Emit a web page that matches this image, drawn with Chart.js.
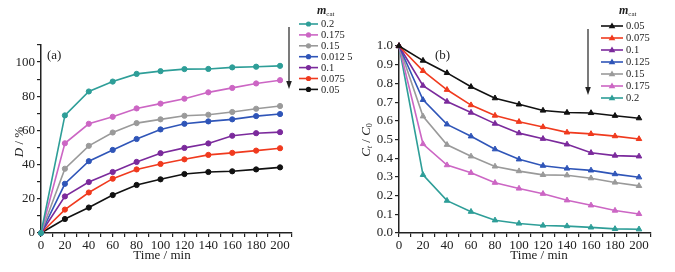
<!DOCTYPE html>
<html lang="en">
<head>
<meta charset="UTF-8" />
<title>Degradation vs catalyst mass</title>
<style>
  body { margin: 0; background: #fff; }
  #wrap { position: relative; width: 675px; height: 272px; }
  canvas { position: absolute; top: 0; }
</style>
</head>
<body>
<div id="wrap">
  <canvas id="chartA" width="370" height="272" style="left:0"></canvas>
  <canvas id="chartB" width="335" height="272" style="left:340px"></canvas>
</div>

<script src="https://cdn.jsdelivr.net/npm/chart.js"></script>
<script>
  // sampling times (min)
  const times = [0, 20, 40, 60, 80, 100, 120, 140, 160, 180, 200];

  // (a) degradation D / %  -- legend order, top to bottom
  const labelsA = ["0.2", "0.175", "0.15", "0.012 5", "0.1", "0.075", "0.05"];
  const dA_02   = [0, 68.8, 82.8, 88.6, 93.1, 94.7, 95.9, 96.0, 96.9, 97.3, 97.8];
  const dA_0175 = [0, 52.5, 63.9, 68.0, 72.9, 75.7, 78.6, 82.3, 84.9, 87.5, 89.4];
  const dA_015  = [0, 37.6, 51.0, 58.8, 64.3, 66.5, 68.6, 69.2, 70.8, 72.7, 74.3];
  const dA_0125 = [0, 28.8, 42.0, 48.6, 55.0, 60.6, 63.9, 65.3, 66.5, 68.4, 69.6];
  const dA_01   = [0, 21.4, 29.8, 35.7, 41.6, 46.7, 49.8, 52.4, 56.9, 58.4, 59.0];
  const dA_0075 = [0, 13.7, 23.7, 31.8, 37.2, 40.4, 43.1, 45.7, 46.9, 48.2, 49.6];
  const dA_005  = [0, 8.2, 14.9, 22.2, 28.1, 31.4, 34.5, 35.7, 36.1, 37.2, 38.4];

  // (b) Ct / C0 -- legend order, top to bottom
  const labelsB = ["0.05", "0.075", "0.1", "0.125", "0.15", "0.175", "0.2"];
  const cB_005  = [1, 0.922, 0.856, 0.782, 0.721, 0.688, 0.655, 0.644, 0.642, 0.627, 0.614];
  const cB_0075 = [1, 0.867, 0.766, 0.684, 0.628, 0.595, 0.567, 0.538, 0.530, 0.518, 0.503];
  const cB_01   = [1, 0.788, 0.703, 0.644, 0.585, 0.534, 0.504, 0.474, 0.429, 0.414, 0.410];
  const cB_0125 = [1, 0.712, 0.581, 0.517, 0.448, 0.394, 0.360, 0.345, 0.335, 0.315, 0.298];
  const cB_015  = [1, 0.624, 0.472, 0.410, 0.356, 0.331, 0.311, 0.309, 0.293, 0.270, 0.252];
  const cB_0175 = [1, 0.476, 0.363, 0.322, 0.269, 0.238, 0.210, 0.175, 0.148, 0.120, 0.102];
  const cB_02   = [1, 0.311, 0.173, 0.114, 0.068, 0.051, 0.040, 0.037, 0.030, 0.022, 0.020];

  const TEAL = '#2e9e98', PINK = '#cc66c4', GRAY = '#9a9a9a', BLUE = '#2f55b8',
        PURPLE = '#7b2a9c', RED = '#f03a1e', BLACK = '#111111';
  const FONT = '"Liberation Serif", "Times New Roman", serif';
  const INK = '#222';

  function series(values) {
    return values.map((v, i) => ({ x: times[i], y: v }));
  }

  function makeSets(labels, arrays, colors, style) {
    return labels.map((lb, i) => ({
      label: lb,
      data: series(arrays[i]),
      borderColor: colors[i],
      backgroundColor: colors[i],
      borderWidth: 1.6,
      pointStyle: style,
      pointRadius: style === 'triangle' ? 3.2 : 2.6,
      pointBorderWidth: 1,
      tension: 0,
      clip: false
    }));
  }

  // draws the legend, arrow, panel label and axis titles
  const decor = {
    id: 'decor',
    afterDraw(chart, args, o) {
      const ctx = chart.ctx;
      ctx.save();
      ctx.fillStyle = INK;
      ctx.textBaseline = 'middle';

      ctx.font = '13px ' + FONT;
      ctx.fillText(o.panel, o.panelX, o.panelY);

      // legend title m_cat
      ctx.font = 'italic bold 12px ' + FONT;
      ctx.fillText('m', o.titleX, o.titleY);
      const mw = ctx.measureText('m').width;
      ctx.font = '7px ' + FONT;
      ctx.fillText('cat', o.titleX + mw, o.titleY + 3);

      // legend entries
      chart.data.datasets.forEach((ds, i) => {
        const y = o.legY + i * o.legStep;
        ctx.strokeStyle = ds.borderColor;
        ctx.lineWidth = 1.6;
        ctx.beginPath();
        ctx.moveTo(o.legX, y);
        ctx.lineTo(o.legX + o.legLen, y);
        ctx.stroke();
        ctx.fillStyle = ds.borderColor;
        const cx = o.legX + o.legLen / 2;
        ctx.beginPath();
        if (ds.pointStyle === 'triangle') {
          ctx.moveTo(cx, y - 3.5);
          ctx.lineTo(cx + 3.3, y + 2.3);
          ctx.lineTo(cx - 3.3, y + 2.3);
          ctx.closePath();
        } else {
          ctx.arc(cx, y, 2.6, 0, Math.PI * 2);
        }
        ctx.fill();
        ctx.fillStyle = INK;
        ctx.font = '10.5px ' + FONT;
        ctx.fillText(ds.label, o.legX + o.legLen + 3, y + 0.5);
      });

      // arrow
      ctx.strokeStyle = INK;
      ctx.fillStyle = INK;
      ctx.lineWidth = 1.2;
      ctx.beginPath();
      ctx.moveTo(o.arrowX, o.arrowY1);
      ctx.lineTo(o.arrowX, o.arrowY2 - 6);
      ctx.stroke();
      ctx.beginPath();
      ctx.moveTo(o.arrowX - 2.8, o.arrowY2 - 8);
      ctx.lineTo(o.arrowX + 2.8, o.arrowY2 - 8);
      ctx.lineTo(o.arrowX, o.arrowY2);
      ctx.closePath();
      ctx.fill();

      // x title
      ctx.font = '13px ' + FONT;
      ctx.textAlign = 'center';
      ctx.fillText('Time / min', o.xTitleX, o.xTitleY);
      ctx.textAlign = 'left';

      // y title, rotated, built from pieces [text, italic, sub]
      const pieces = o.yTitle.map(p => {
        ctx.font = (p[1] ? 'italic ' : '') + (p[2] ? '8px ' : '13px ') + FONT;
        return { t: p[0], f: ctx.font, w: ctx.measureText(p[0]).width, sub: p[2] };
      });
      const total = pieces.reduce((s, p) => s + p.w, 0);
      ctx.translate(o.yTitleX, o.yTitleY);
      ctx.rotate(-Math.PI / 2);
      let px = -total / 2;
      pieces.forEach(p => {
        ctx.font = p.f;
        ctx.fillText(p.t, px, p.sub ? 3 : 0);
        px += p.w;
      });
      ctx.restore();
    }
  };

  function axisX(maxX) {
    return {
      type: 'linear',
      min: 0,
      max: maxX,
      ticks: {
        stepSize: 10,
        autoSkip: false,
        maxRotation: 0,
        padding: 1,
        color: INK,
        font: { family: FONT, size: 13 },
        callback: v => (v % 20 === 0 && v <= 200) ? v : ''
      },
      grid: { drawOnChartArea: false, tickLength: 4, color: INK, lineWidth: 1.2 },
      border: { color: INK, width: 1.5 },
      afterFit: s => { s.height = 39; }
    };
  }

  new Chart(document.getElementById('chartA'), {
    type: 'line',
    data: {
      datasets: makeSets(labelsA,
        [dA_02, dA_0175, dA_015, dA_0125, dA_01, dA_0075, dA_005],
        [TEAL, PINK, GRAY, BLUE, PURPLE, RED, BLACK], 'circle')
    },
    options: {
      responsive: false,
      animation: false,
      layout: { padding: { top: 45, right: 78, left: 0, bottom: 0 } },
      scales: {
        x: axisX(210),
        y: {
          min: 0,
          max: 110,
          ticks: {
            stepSize: 10,
            autoSkip: false,
            padding: 2,
            color: INK,
            font: { family: FONT, size: 13 },
            callback: v => v % 20 === 0 ? v : ''
          },
          grid: { drawOnChartArea: false, tickLength: 4, color: INK, lineWidth: 1.2 },
          border: { color: INK, width: 1.5 },
          afterFit: s => { s.width = 41; }
        }
      },
      plugins: {
        legend: { display: false },
        tooltip: { enabled: false },
        decor: {
          panel: '(a)', panelX: 47, panelY: 56,
          titleX: 317, titleY: 11,
          legX: 299, legY: 24, legStep: 10.9, legLen: 19,
          arrowX: 289, arrowY1: 27, arrowY2: 89,
          xTitleX: 162, xTitleY: 256,
          yTitle: [['D', true, false], [' / %', false, false]],
          yTitleX: 20, yTitleY: 142
        }
      }
    },
    plugins: [decor]
  });

  new Chart(document.getElementById('chartB'), {
    type: 'line',
    data: {
      datasets: makeSets(labelsB,
        [cB_005, cB_0075, cB_01, cB_0125, cB_015, cB_0175, cB_02],
        [BLACK, RED, PURPLE, BLUE, GRAY, PINK, TEAL], 'triangle')
    },
    options: {
      responsive: false,
      animation: false,
      layout: { padding: { top: 46, right: 24, left: 0, bottom: 0 } },
      scales: {
        x: axisX(210),
        y: {
          min: 0,
          max: 1,
          ticks: {
            stepSize: 0.1,
            autoSkip: false,
            padding: 2,
            color: INK,
            font: { family: FONT, size: 13 },
            callback: v => v.toFixed(1)
          },
          grid: { drawOnChartArea: false, tickLength: 4, color: INK, lineWidth: 1.2 },
          border: { color: INK, width: 1.5 },
          afterFit: s => { s.width = 59; }
        }
      },
      plugins: {
        legend: { display: false },
        tooltip: { enabled: false },
        decor: {
          panel: '(b)', panelX: 95, panelY: 56,
          titleX: 279, titleY: 11,
          legX: 261, legY: 26, legStep: 12, legLen: 22,
          arrowX: 248, arrowY1: 29, arrowY2: 95,
          xTitleX: 199, xTitleY: 256,
          yTitle: [['C', true, false], ['t', true, true], [' / ', false, false], ['C', true, false], ['0', false, true]],
          yTitleX: 27, yTitleY: 140
        }
      }
    },
    plugins: [decor]
  });
</script>
</body>
</html>
